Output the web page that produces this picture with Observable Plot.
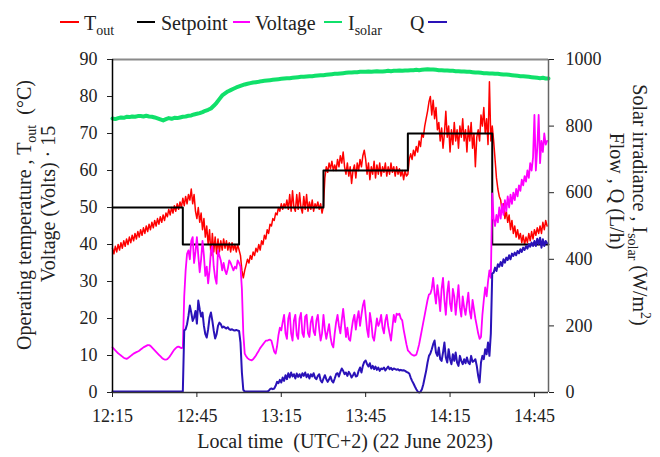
<!DOCTYPE html>
<html><head><meta charset="utf-8">
<script src="https://cdn.jsdelivr.net/npm/d3@7"></script>
<script src="https://cdn.jsdelivr.net/npm/@observablehq/plot@0.6"></script>
<style>body{margin:0;background:#fff}</style>
</head><body><div id="chart"></div>
<script>
// minutes after 12:15, sampled every 0.5 min
const sampleStep = 0.5;
// T_out (°C), left axis
const tOut = [
39,37.5,39.5,38,40,38.5,40.5,39,41,39.5,
41.5,40,42,40.5,42.5,41,43,41.5,43.5,42,
44,42.5,44.5,43,45,43.5,45.5,44,46,44.5,
46.5,45,47,45.5,47.5,46,48,46.5,48.5,47.5,
49.5,48,50,48.5,50.5,49,51,49.5,51.5,50,
52.5,50.5,53,51,53.5,52,55,51,53.5,49,
47,50,46,48.5,44,47,42,45,40,44,
37,43,38,42,37.5,41.5,38,41,38.5,41.5,
39,41,38.5,40.5,38,40.5,38.5,40,38,40,
38.5,37,33,31,33,34.5,36,35,37,36,
38,37,39,38,40,38.5,41,40,42.5,41.5,
44,43,45.5,45,47,46.5,48.5,48,50,49,
51,49.5,51,50,52,49.5,53.5,49,54.5,50,
49,53.5,49.5,54,50,48.5,53,49.5,53.5,49,
51.5,49.5,52,49,51,50,51.5,49.5,51,48.5,
50.5,58,61,59.5,62,60.5,62.5,60,61.5,60,
63,61,64,62,65,61,59,62,58.5,61,
56.5,60,61.5,58,62,60,63,61,64,65.5,
63,59,62,57.5,61,59,62.5,58,61.5,59,
62,58.5,61,59.5,62,58.5,61,59,62,59.5,
61,58.5,61,59,60.5,58.5,60,57.5,60,58.5,
59,63,64.5,63,65.5,64,66.5,65,68,66.5,
70,69,72,74,76,78.5,80,75,79,74,
77,71,73,68,71.5,66,70,76,69,72,
65,71,67,73,68,71,66,72,69,74,
68,71,65,72,68,73,66,70,61,69,
71,68,75,72,77,70,74,67,84,68,
72,68,63,58,55,53,52,49,51,47,
49,46,48,44,46.5,43,45,42,44,41.5,
43,40.5,42.5,40,42,40.5,43,41,43.5,41.5,
44,42.5,44.5,43,45,43,46,44,46.5,45
];
// Voltage (Volts) · 15, left axis
const voltage = [
12.2,11.8,11.4,11.0,10.6,10.3,10.0,9.7,9.4,9.2,
9.1,9.3,9.6,9.9,10.2,10.5,10.7,10.9,11.1,11.3,
11.6,11.9,12.2,12.4,12.6,12.8,12.8,12.6,12.2,11.8,
11.4,11.0,10.6,10.2,9.8,9.4,9.1,8.9,8.9,9.0,
9.4,9.9,10.5,11.1,11.6,12.0,12.3,12.4,12.2,12.0,
12.1,26,33,37.5,38.4,36,41,42,35,38,
42,37,32.5,36,41,37,31.5,34,29.5,33,
38.4,39.5,34,31,29.4,38.4,37,35.7,33,35,
33,32,33.5,35.7,35,34,33,34,33.5,35.7,
35,34,28,16,10.5,9.8,9.3,9.0,8.8,8.7,
9.0,9.5,10.0,10.7,11.3,12.0,12.5,13.0,13.5,14.0,
14.0,14.2,14.3,14.0,12.5,11.0,10.5,12.5,15.5,17.5,
16.8,19,21,16,14.5,20,21.5,16,14,19.5,
21,15.5,14.5,20,21.5,16,15,20.5,21,16,
15,19,20.5,16.5,15.5,19.5,21,17,14,16,
21,17,14.5,16.5,18.5,15,13,12.2,16,19,
21,18,16,19.5,22.6,19,15,17.5,14.5,14,
17,19.5,21,17,20,22,18,21,23.5,24.9,
21,17,15,21.5,19,15,14,17,20,18,
19,21,17.5,16,19.5,21,18,16,14,17.5,
21,19,21.3,21,21.3,20,19.5,17,15,13,
11.4,11,10.5,10.2,10,10,10.2,11.5,13,15,
17,19,21,23,25,26.5,26.7,28,31,27,
24,29,26,22,28,31,25,21,27,30,
24,22,28,26,21,25,29,23,20.5,26,
23,21,24,27,22,20,25,22.5,20,18,
16,14.5,15,21,25,28.4,26,30,33,31,
53.8,47,45,48,46,50,47,51,48,52,
49,53,50,53.5,51,54,52,55,53,56,
54.5,57.5,56,58.5,57,60,58,62,60,63.5,
75,60,66,75,62,68,65,70,67,68
];
// Flow Q (L/h), right axis
const flowQ = [
3,3,3,3,3,3,3,3,3,3,
3,3,3,3,3,3,3,3,3,3,
3,3,3,3,3,3,3,3,3,3,
3,3,3,3,3,3,3,3,3,3,
3,3,3,3,3,3,3,3,3,3,
3,186,190,205,230,261,240,215,225,245,
207,276,250,228,240,200,175,165,190,225,
240,215,185,162,175,200,210,205,195,198,
195,192,196,190,188,190,187,186,188,186,
185,150,60,8,3,3,3,3,3,3,
3,3,3,3,3,3,3,3,3,3,
3,5,10,12,10,12,20,32,28,38,
30,45,35,52,40,58,45,60,48,55,
42,57,47,55,45,58,50,60,46,55,
42,55,48,58,44,40,50,55,36,30,
42,52,40,32,40,48,35,30,42,55,
58,48,62,72,65,55,60,50,62,55,
45,52,60,48,50,65,75,60,80,92,
96,85,78,88,72,80,70,78,68,75,
65,72,70,75,66,72,78,70,74,68,
72,70,68,70,66,68,66,67,65,62,
60,57,45,35,27,18,10,3,0,2,
10,25,45,65,90,110,117,130,145,156,
120,110,135,100,95,120,150,105,90,130,
100,85,115,95,120,90,80,110,95,85,
100,88,105,90,85,110,92,95,100,80,
50,30,90,110,100,130,115,150,110,177,
357,360,375,365,385,378,392,380,400,390,
405,398,412,400,417,410,420,412,425,418,
430,422,435,428,440,432,445,438,450,440,
455,440,462,445,465,435,460,440,455,448
];
// Solar irradiance (W/m²), right axis, sampled every 1 min
const solarStep = 1;
const solar = [
823,821,824,826,825,828,827,829,828,830,
830,829,831,829,828,826,823,820,817,821,
824,822,825,824,826,828,829,831,832,835,
837,839,842,846,849,853,861,870,881,892,
898,904,908,912,916,919,922,925,927,929,
931,932,933,935,936,937,938,939,940,941,
942,943,944,944,945,946,947,948,948,949,
950,950,951,952,953,953,954,955,956,957,
957,958,959,960,961,961,962,962,963,963,
963,964,963,964,965,964,964,965,966,965,
966,966,967,966,967,967,968,968,969,968,
969,970,971,970,970,969,968,968,967,967,
966,966,965,965,964,964,963,963,962,961,
961,960,959,959,958,958,957,957,956,955,
955,954,953,952,951,950,950,949,948,947,
946,945,944,945,943,943
];
const setpointTimes = [0, 25, 45, 75, 105, 135, 155];
const setpointValues = [50, 40, 50, 60, 70, 40, 40];
const timeTicks = [0, 30, 60, 90, 120, 150];
const timeTickLabels = ["12:15", "12:45", "13:15", "13:45", "14:15", "14:45"];
const leftTicks = [0, 10, 20, 30, 40, 50, 60, 70, 80, 90];
const rightTicks = [0, 200, 400, 600, 800, 1000];

const leftMax = 90, rightMax = 1000;
const toLeft = v => v * leftMax / rightMax;
const rows = (arr, step) => arr.map((v, i) => ({t: i * step, v}));
const setpoint = setpointTimes.map((t, i) => ({t, v: setpointValues[i]}));
const font = '"Liberation Serif", "DejaVu Serif", serif';

const chart = Plot.plot({
  width: 660, height: 457,
  marginTop: 59, marginBottom: 65, marginLeft: 112, marginRight: 112,
  style: {fontFamily: font, fontSize: "18px", color: "#222", background: "#fff"},
  x: {domain: [0, 155]},
  y: {domain: [0, 90]},
  marks: [
    Plot.line(rows(solar, solarStep), {x: "t", y: d => toLeft(d.v), stroke: "#10e06a", strokeWidth: 4}),
    Plot.line(rows(tOut, sampleStep), {x: "t", y: "v", stroke: "#ff0000", strokeWidth: 1.5}),
    Plot.line(setpoint, {x: "t", y: "v", curve: "step-after", stroke: "#000", strokeWidth: 2}),
    Plot.line(rows(voltage, sampleStep), {x: "t", y: "v", stroke: "#ff00ff", strokeWidth: 1.8}),
    Plot.line(rows(flowQ, sampleStep), {x: "t", y: d => toLeft(d.v), stroke: "#2a12b8", strokeWidth: 2}),
    Plot.ruleY([90], {stroke: "#8a8a8a", strokeWidth: 2}),
    Plot.ruleX([155], {stroke: "#666", strokeWidth: 1.5}),
    Plot.ruleX([0], {stroke: "#000", strokeWidth: 1.5}),
    Plot.ruleY([0], {stroke: "#333", strokeWidth: 1.5}),
    Plot.axisY(leftTicks, {anchor: "left", tickSize: 5, tickPadding: 10, label: null}),
    Plot.axisY(rightTicks.map(toLeft), {anchor: "right", tickSize: 5, tickPadding: 12, label: null,
      tickFormat: d => String(Math.round(d * rightMax / leftMax))}),
    Plot.axisX(timeTicks, {anchor: "bottom", tickSize: 5, tickPadding: 12, label: null,
      tickFormat: d => timeTickLabels[timeTicks.indexOf(d)]})
  ]
});
document.getElementById("chart").appendChild(chart);

const svg = d3.select(chart);
const g = svg.append("g").attr("font-family", font).attr("fill", "#222");

function richText(x, y, rotate, anchor, size, parts) {
  const t = g.append("text")
    .attr("transform", `translate(${x},${y}) rotate(${rotate})`)
    .attr("text-anchor", anchor).attr("font-size", size)
    .style("white-space", "pre");
  let cur = 0;
  for (const p of parts) {
    const shift = p.shift || 0;
    const s = t.append("tspan").text(p.text).attr("dy", shift - cur);
    if (shift !== 0) s.attr("font-size", size * 0.7);
    cur = shift;
  }
  return t;
}

// axis titles
richText(345, 448, 0, "middle", 20, [{text: "Local time  (UTC+2) (22 June 2023)"}]);
richText(31, 215, -90, "middle", 20, [{text: "Operating temperature , T"}, {text: "out", shift: 5}, {text: "  (°C)"}]);
richText(55, 204, -90, "middle", 20, [{text: "Voltage (Volts) · 15"}]);
richText(633, 205, 90, "middle", 20, [{text: "Solar irradiance , I"}, {text: "solar", shift: 5}, {text: " (W/m"}, {text: "2", shift: -8}, {text: ")"}]);
richText(610, 191, 90, "middle", 20, [{text: "Flow , Q (L/h)"}]);

// legend
const legendNames = ["T_out", "Setpoint", "Voltage", "I_solar", "Q"];
const legendColors = ["#ff0000", "#000000", "#ff00ff", "#10e06a", "#2a12b8"];
const legendLines = [[60, 79], [137, 155], [233, 250], [324, 342], [428, 447]];
const legendTextX = [84, 161, 255, 348, 410];
legendNames.forEach((name, i) => {
  g.append("line").attr("x1", legendLines[i][0]).attr("x2", legendLines[i][1])
    .attr("y1", 22).attr("y2", 22).attr("stroke", legendColors[i]).attr("stroke-width", 2);
  const [main, sub] = name.split("_");
  const parts = [{text: main}];
  if (sub) parts.push({text: sub, shift: 5});
  richText(legendTextX[i], 30, 0, "start", 20, parts);
});
</script>
</body></html>
